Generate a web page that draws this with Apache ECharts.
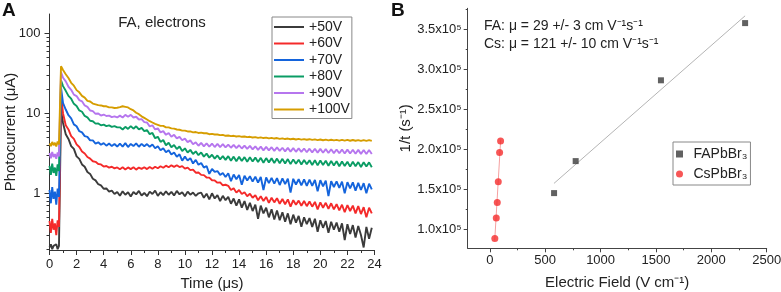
<!DOCTYPE html>
<html><head><meta charset="utf-8">
<script src="https://cdn.jsdelivr.net/npm/echarts@6/dist/echarts.min.js"></script>
<style>html,body{margin:0;padding:0;background:#fff}#c{width:781px;height:292px}</style>
</head><body><div id="c"></div>
<script>
// ---------- Panel A data ----------
const timeUs = [0,0.1,0.2,0.3,0.4,0.5,0.6,0.7,0.85,1.0,
1.2,1.4,1.6,1.8,2.0,2.2,2.4,2.6,2.8,3.0,
3.2,3.4,3.6,3.8,4.0,4.2,4.4,4.6,4.8,5.0,
5.2,5.4,5.6,5.8,6.0,6.2,6.4,6.6,6.8,7.0,
7.2,7.4,7.6,7.8,8.0,8.2,8.4,8.6,8.8,9.0,
9.2,9.4,9.6,9.8,10.0,10.2,10.4,10.6,10.8,11.0,
11.2,11.4,11.6,11.8,12.0,12.2,12.4,12.6,12.8,13.0,
13.2,13.4,13.6,13.8,14.0,14.2,14.4,14.6,14.8,15.0,
15.2,15.4,15.6,15.8,16.0,16.2,16.4,16.6,16.8,17.0,
17.2,17.4,17.6,17.8,18.0,18.2,18.4,18.6,18.8,19.0,
19.2,19.4,19.6,19.8,20.0,20.2,20.4,20.6,20.8,21.0,
21.2,21.4,21.6,21.8,22.0,22.2,22.4,22.6,22.8,23.0,
23.2,23.4,23.6,23.8];

const voltageLabels = ['+50V','+60V','+70V','+80V','+90V','+100V'];

const current50V = [0.21,0.23,0.2,0.22,0.21,0.23,0.2,0.22,11,7.6,
5.5,4.8,3.9,3.6,2.9,2.7,2.3,2.15,1.85,1.75,
1.52,1.45,1.3,1.26,1.14,1.15,1.05,1.08,0.98,1.04,
0.93,1.06,0.96,1.03,0.91,1.04,0.97,1.07,0.94,1.01,
0.92,1.05,0.98,1.08,0.93,1.03,0.95,1.06,0.96,1.04,
0.94,1.07,0.97,1.03,0.92,1.05,0.96,1.02,0.93,1.0,
1.02,0.88,0.99,0.84,1.0,0.86,0.95,0.8,0.93,0.82,
0.9,0.74,0.86,0.7,0.84,0.66,0.8,0.62,0.76,0.6,
0.72,0.48,0.7,0.56,0.66,0.5,0.63,0.47,0.61,0.46,
0.58,0.44,0.56,0.41,0.54,0.43,0.52,0.38,0.5,0.41,
0.49,0.38,0.48,0.33,0.46,0.37,0.45,0.32,0.44,0.35,
0.43,0.33,0.42,0.26,0.41,0.31,0.4,0.28,0.39,0.3,
0.21,0.38,0.27,0.37];

const current60V = [0.45,0.32,0.48,0.35,0.42,0.3,0.46,0.38,17,10,
7.1,6.3,5.2,4.8,4.1,3.8,3.35,3.15,2.85,2.72,
2.52,2.48,2.33,2.3,2.16,2.2,2.1,2.15,2.05,2.11,
2.0,2.12,1.99,2.11,2.01,2.12,1.98,2.1,2.02,2.12,
2.01,2.14,2.03,2.15,2.06,2.18,2.09,2.22,2.12,2.24,
2.14,2.25,2.13,2.19,2.04,2.1,1.95,1.98,1.81,1.82,
1.7,1.69,1.58,1.57,1.46,1.45,1.36,1.37,1.26,1.28,
1.24,1.1,1.16,1.02,1.1,0.98,1.03,0.92,0.99,0.88,
0.95,0.82,0.92,0.8,0.9,0.76,0.88,0.77,0.87,0.74,
0.85,0.73,0.84,0.68,0.82,0.72,0.81,0.7,0.8,0.69,
0.79,0.68,0.78,0.63,0.77,0.66,0.76,0.64,0.75,0.63,
0.73,0.61,0.72,0.58,0.71,0.6,0.7,0.56,0.69,0.55,
0.67,0.5,0.66,0.56];

const current70V = [1.1,0.75,1.2,0.85,1.05,0.72,1.15,0.9,21,13.5,
11.2,9.5,8.7,7.3,6.9,6.0,5.8,5.2,5.1,4.6,
4.6,4.2,4.35,4.05,4.25,3.95,4.2,3.9,4.15,3.85,
4.2,3.85,4.25,3.8,4.15,3.9,4.22,3.83,4.16,3.88,
4.14,3.82,4.08,3.66,3.88,3.46,3.66,3.26,3.46,3.06,
3.24,2.86,3.08,2.56,2.88,2.58,2.76,2.36,2.62,2.28,
2.4,2.1,2.2,1.75,2.02,1.85,1.9,1.7,1.8,1.6,
1.78,1.42,1.72,1.5,1.7,1.28,1.66,1.45,1.64,1.4,
1.62,1.36,1.6,1.1,1.58,1.34,1.56,1.32,1.55,1.27,
1.54,1.3,1.53,1.02,1.52,1.29,1.5,1.26,1.49,1.24,
1.48,1.24,1.47,1.06,1.46,1.22,1.44,0.92,1.42,1.2,
1.41,1.17,1.4,1.0,1.38,1.15,1.37,1.08,1.35,1.1,
1.34,1.0,1.32,1.12];

const current80V = [2.2,1.7,2.35,1.8,2.1,1.65,2.3,1.9,26,22,
19.2,16.6,15.3,13.2,12.4,10.9,10.5,9.3,8.95,8.1,
8.0,7.45,7.5,7.1,7.25,6.95,7.1,6.8,6.95,6.7,
6.7,6.3,6.8,6.4,6.95,6.45,6.9,6.3,6.6,6.0,
6.2,5.5,5.7,4.9,5.1,4.4,4.65,4.0,4.3,3.78,
4.02,3.58,3.86,3.38,3.66,3.24,3.5,3.1,3.35,3.0,
3.25,2.88,3.14,2.8,3.04,2.72,2.98,2.66,2.92,2.62,
2.92,2.56,2.88,2.52,2.86,2.54,2.84,2.48,2.82,2.5,
2.8,2.46,2.78,2.41,2.76,2.44,2.74,2.4,2.72,2.38,
2.7,2.36,2.68,2.32,2.66,2.34,2.64,2.3,2.62,2.31,
2.6,2.26,2.59,2.24,2.58,2.26,2.56,2.21,2.54,2.23,
2.52,2.18,2.5,2.2,2.49,2.16,2.48,2.18,2.46,2.14,
2.45,2.16,2.44,2.12];

const current90V = [3.2,2.75,3.3,2.85,3.1,2.7,3.25,2.9,33,28,
25.2,21.6,19.8,17.2,16.5,14.7,14.2,12.6,12.1,10.9,
10.7,9.9,10.0,9.4,9.7,9.3,9.4,9.0,9.2,8.9,
9.4,8.9,9.6,9.1,9.6,8.9,9.1,8.4,8.5,7.8,
7.7,6.9,7.1,6.3,6.5,5.8,6.0,5.4,5.7,5.1,
5.4,4.88,5.1,4.62,4.85,4.38,4.6,4.12,4.35,3.94,
4.28,3.88,4.22,3.84,4.2,3.8,4.16,3.78,4.12,3.75,
4.08,3.72,4.04,3.68,4.0,3.64,3.96,3.6,3.92,3.55,
3.88,3.5,3.84,3.45,3.82,3.45,3.78,3.4,3.76,3.4,
3.72,3.35,3.7,3.33,3.68,3.31,3.66,3.3,3.64,3.27,
3.62,3.25,3.61,3.23,3.6,3.22,3.58,3.2,3.56,3.19,
3.54,3.17,3.53,3.15,3.52,3.15,3.51,3.13,3.5,3.12,
3.49,3.11,3.48,3.1];

const current100V = [4.2,3.9,4.4,4.0,4.3,3.85,4.45,4.1,39,35,
31,27.8,24.2,22.3,19.6,18.4,16.6,15.8,14.4,14.1,
13.3,13.0,12.7,12.6,12.3,12.3,11.9,11.9,11.7,11.8,
12.0,12.3,12.1,11.9,11.3,10.9,10.2,9.8,9.2,8.8,
8.4,8.0,7.7,7.4,7.2,7.0,7.0,6.7,6.7,6.5,
6.45,6.3,6.25,6.1,6.1,5.95,5.95,5.8,5.85,5.7,
5.75,5.65,5.65,5.5,5.55,5.45,5.45,5.35,5.4,5.25,
5.3,5.2,5.25,5.15,5.2,5.1,5.15,5.05,5.1,5.0,
5.05,4.95,5.02,4.92,4.98,4.88,4.95,4.85,4.92,4.8,
4.88,4.78,4.85,4.75,4.82,4.72,4.8,4.7,4.78,4.68,
4.76,4.66,4.74,4.64,4.72,4.62,4.7,4.6,4.68,4.6,
4.67,4.57,4.66,4.56,4.66,4.55,4.65,4.55,4.64,4.54,
4.64,4.54,4.63,4.53];

const yTickLabelsA = [1, 10, 100];
const yMinorTicksA = [0.2,0.3,0.4,0.5,0.6,0.7,0.8,0.9,2,3,4,5,6,7,8,9,20,30,40,50,60,70,80,90];

// ---------- Panel B data ----------
const faField = [580, 775, 1545, 2305];
const faRate = [145000, 185000, 286000, 357500];
const csField = [45, 58, 67, 76, 88, 97];
const csRate = [88400, 113800, 133400, 159100, 195900, 210000];
const faFitField = [579, 2305];
const faFitRate = [157100, 366600];
const csFitField = [44, 98];
const csFitRate = [86000, 212000];
const xTickLabelsB = [0, 500, 1000, 1500, 2000, 2500];
const xMinorTicksB = [250, 750, 1250, 1750, 2250];
const yTickLabelsB = [100000, 150000, 200000, 250000, 300000, 350000];
const yMinorTicksB = [125000, 175000, 225000, 275000, 325000, 375000];

// ---------- Build chart ----------
const FONT = 'Arial, "Liberation Sans", sans-serif';
const colors = ['#3b3b3b', '#f42a2a', '#1464dc', '#0a9c64', '#b676ee', '#d69d00'];
const traces = [current50V, current60V, current70V, current80V, current90V, current100V];
const AX = '#333';
const LBL = '#222';

const logMin = Math.log10(0.195), logMax = Math.log10(176);

const series = traces.map((vals, k) => ({
  name: voltageLabels[k], type: 'line', xAxisIndex: 0, yAxisIndex: 0,
  data: timeUs.map((t, i) => [t, vals[i]]),
  symbol: 'none', showSymbol: false,
  lineStyle: { width: 1.9, color: colors[k] }, itemStyle: { color: colors[k] },
  z: 2 + k, animation: false
}));

series.push({
  name: 'faFit', type: 'line', xAxisIndex: 1, yAxisIndex: 3,
  data: faFitField.map((x, i) => [x, faFitRate[i]]), symbol: 'none',
  lineStyle: { width: 1, color: '#b4b4b4' }, animation: false, z: 2
});
series.push({
  name: 'csFit', type: 'line', xAxisIndex: 1, yAxisIndex: 3,
  data: csFitField.map((x, i) => [x, csFitRate[i]]), symbol: 'none',
  lineStyle: { width: 1, color: '#f5a0a0' }, animation: false, z: 2
});
series.push({
  name: 'FAPbBr₃', type: 'scatter', xAxisIndex: 1, yAxisIndex: 3,
  data: faField.map((x, i) => [x, faRate[i]]), symbol: 'rect', symbolSize: 6,
  itemStyle: { color: '#3a3a3a' }, animation: false, z: 4
});
series.push({
  name: 'CsPbBr₃', type: 'scatter', xAxisIndex: 1, yAxisIndex: 3,
  data: csField.map((x, i) => [x, csRate[i]]), symbol: 'circle', symbolSize: 7,
  itemStyle: { color: '#f52c2c' }, animation: false, z: 4
});

const nameStyle = { fontSize: 15, color: LBL, fontFamily: FONT };
const labelStyle = { fontSize: 13, color: LBL, fontFamily: FONT };
const lineIcon = 'path://M0,0H30V2H0Z';

const option = {
  animation: false,
  textStyle: { fontFamily: FONT },
  grid: [
    { left: 49.5, top: 14, width: 325, height: 236, containLabel: false, outerBoundsMode: 'none' },
    { left: 467.7, top: 8.3, width: 299, height: 240, containLabel: false, outerBoundsMode: 'none' }
  ],
  xAxis: [
    { gridIndex: 0, type: 'value', position: 'bottom', min: 0, max: 24, interval: 2,
      axisLine: { onZero: false, lineStyle: { color: AX, width: 1 } },
      axisTick: { length: 5, lineStyle: { color: AX } },
      minorTick: { show: true, splitNumber: 2, length: 3, lineStyle: { color: AX } },
      axisLabel: Object.assign({ margin: 8 }, labelStyle),
      splitLine: { show: false }, minorSplitLine: { show: false },
      name: 'Time (μs)', nameLocation: 'middle', nameGap: 20, nameTextStyle: nameStyle },
    { gridIndex: 1, type: 'value', position: 'bottom', min: -200, max: 2500,
      axisLine: { onZero: false, lineStyle: { color: '#444', width: 1 } },
      axisTick: { length: 4, customValues: xTickLabelsB, lineStyle: { color: '#444' } },
      axisLabel: Object.assign({ margin: 6, customValues: xTickLabelsB, formatter: v => String(v) }, labelStyle),
      splitLine: { show: false },
      name: 'Electric Field (V cm⁻¹)', nameLocation: 'middle', nameGap: 27, nameTextStyle: nameStyle },
    { gridIndex: 1, type: 'value', position: 'bottom', min: -200, max: 2500,
      axisLine: { show: false, onZero: false },
      axisTick: { length: 2, customValues: xMinorTicksB, lineStyle: { color: '#444' } },
      axisLabel: { show: false }, splitLine: { show: false } }
  ],
  yAxis: [
    { gridIndex: 0, type: 'log', logBase: 10, position: 'left', min: 0.195, max: 176,
      axisLine: { show: true, onZero: false, lineStyle: { color: AX, width: 1 } },
      axisTick: { show: false }, axisLabel: { show: false },
      splitLine: { show: false }, minorTick: { show: false },
      name: 'Photocurrent (μA)', nameLocation: 'middle', nameGap: 31, nameTextStyle: nameStyle },
    { gridIndex: 0, type: 'value', position: 'left', min: logMin, max: logMax,
      axisLine: { show: false, onZero: false },
      axisTick: { length: 5, customValues: yTickLabelsA.map(v => Math.log10(v)), lineStyle: { color: AX } },
      axisLabel: Object.assign({ margin: 9, customValues: yTickLabelsA.map(v => Math.log10(v)),
        formatter: v => String(Math.round(Math.pow(10, v))) }, labelStyle),
      splitLine: { show: false } },
    { gridIndex: 0, type: 'value', position: 'left', min: logMin, max: logMax,
      axisLine: { show: false, onZero: false },
      axisTick: { length: 3, customValues: yMinorTicksA.map(v => Math.log10(v)), lineStyle: { color: AX } },
      axisLabel: { show: false }, splitLine: { show: false } },
    { gridIndex: 1, type: 'value', position: 'left', min: 76000, max: 376000,
      axisLine: { show: true, onZero: false, lineStyle: { color: '#444', width: 1 } },
      axisTick: { length: 4, customValues: yTickLabelsB, lineStyle: { color: '#444' } },
      axisLabel: Object.assign({ margin: 6, customValues: yTickLabelsB,
        formatter: v => (v / 100000).toFixed(1) + 'x10⁵' }, labelStyle),
      splitLine: { show: false },
      name: '1/t (s⁻¹)', nameLocation: 'middle', nameGap: 54, nameTextStyle: nameStyle },
    { gridIndex: 1, type: 'value', position: 'left', min: 76000, max: 376000,
      axisLine: { show: false, onZero: false },
      axisTick: { length: 2, customValues: yMinorTicksB, lineStyle: { color: '#444' } },
      axisLabel: { show: false }, splitLine: { show: false } }
  ],
  legend: [
    { data: voltageLabels.map(n => ({ name: n, icon: lineIcon })), orient: 'vertical', left: 272, top: 17, padding: [3, 2, 2, 2],
      itemWidth: 30, itemHeight: 14, itemGap: 2.5, borderColor: '#888', borderWidth: 1,
      selectedMode: false,
      textStyle: { fontSize: 14, color: LBL, fontFamily: FONT } },
    { data: [{ name: 'FAPbBr₃', icon: 'path://M0,0H10V10H0Z' }, { name: 'CsPbBr₃', icon: 'circle' }],
      orient: 'vertical', left: 673, top: 142, padding: [5, 3, 4, 3],
      itemWidth: 18, itemHeight: 7, itemGap: 6, borderColor: '#888', borderWidth: 1,
      selectedMode: false, textStyle: { fontSize: 14, color: LBL, fontFamily: FONT } }
  ],
  graphic: [
    { type: 'text', left: 2, top: 1, style: { text: 'A', font: 'bold 19px ' + FONT, fill: '#111' } },
    { type: 'text', left: 391, top: 1, style: { text: 'B', font: 'bold 19px ' + FONT, fill: '#111' } },
    { type: 'text', x: 162, y: 23, style: { text: 'FA, electrons', font: '15px ' + FONT, fill: LBL, align: 'center', verticalAlign: 'middle' } },
    { type: 'text', x: 484, y: 26, style: { text: 'FA: μ = 29 +/- 3 cm V⁻¹s⁻¹', font: '14px ' + FONT, fill: LBL, align: 'left', verticalAlign: 'middle' } },
    { type: 'text', x: 484, y: 44, style: { text: 'Cs: μ = 121 +/- 10 cm V⁻¹s⁻¹', font: '14px ' + FONT, fill: LBL, align: 'left', verticalAlign: 'middle' } }
  ],
  series: series
};

const chart = echarts.init(document.getElementById('c'), null, { renderer: 'canvas' });
chart.setOption(option);
</script>
</body></html>
